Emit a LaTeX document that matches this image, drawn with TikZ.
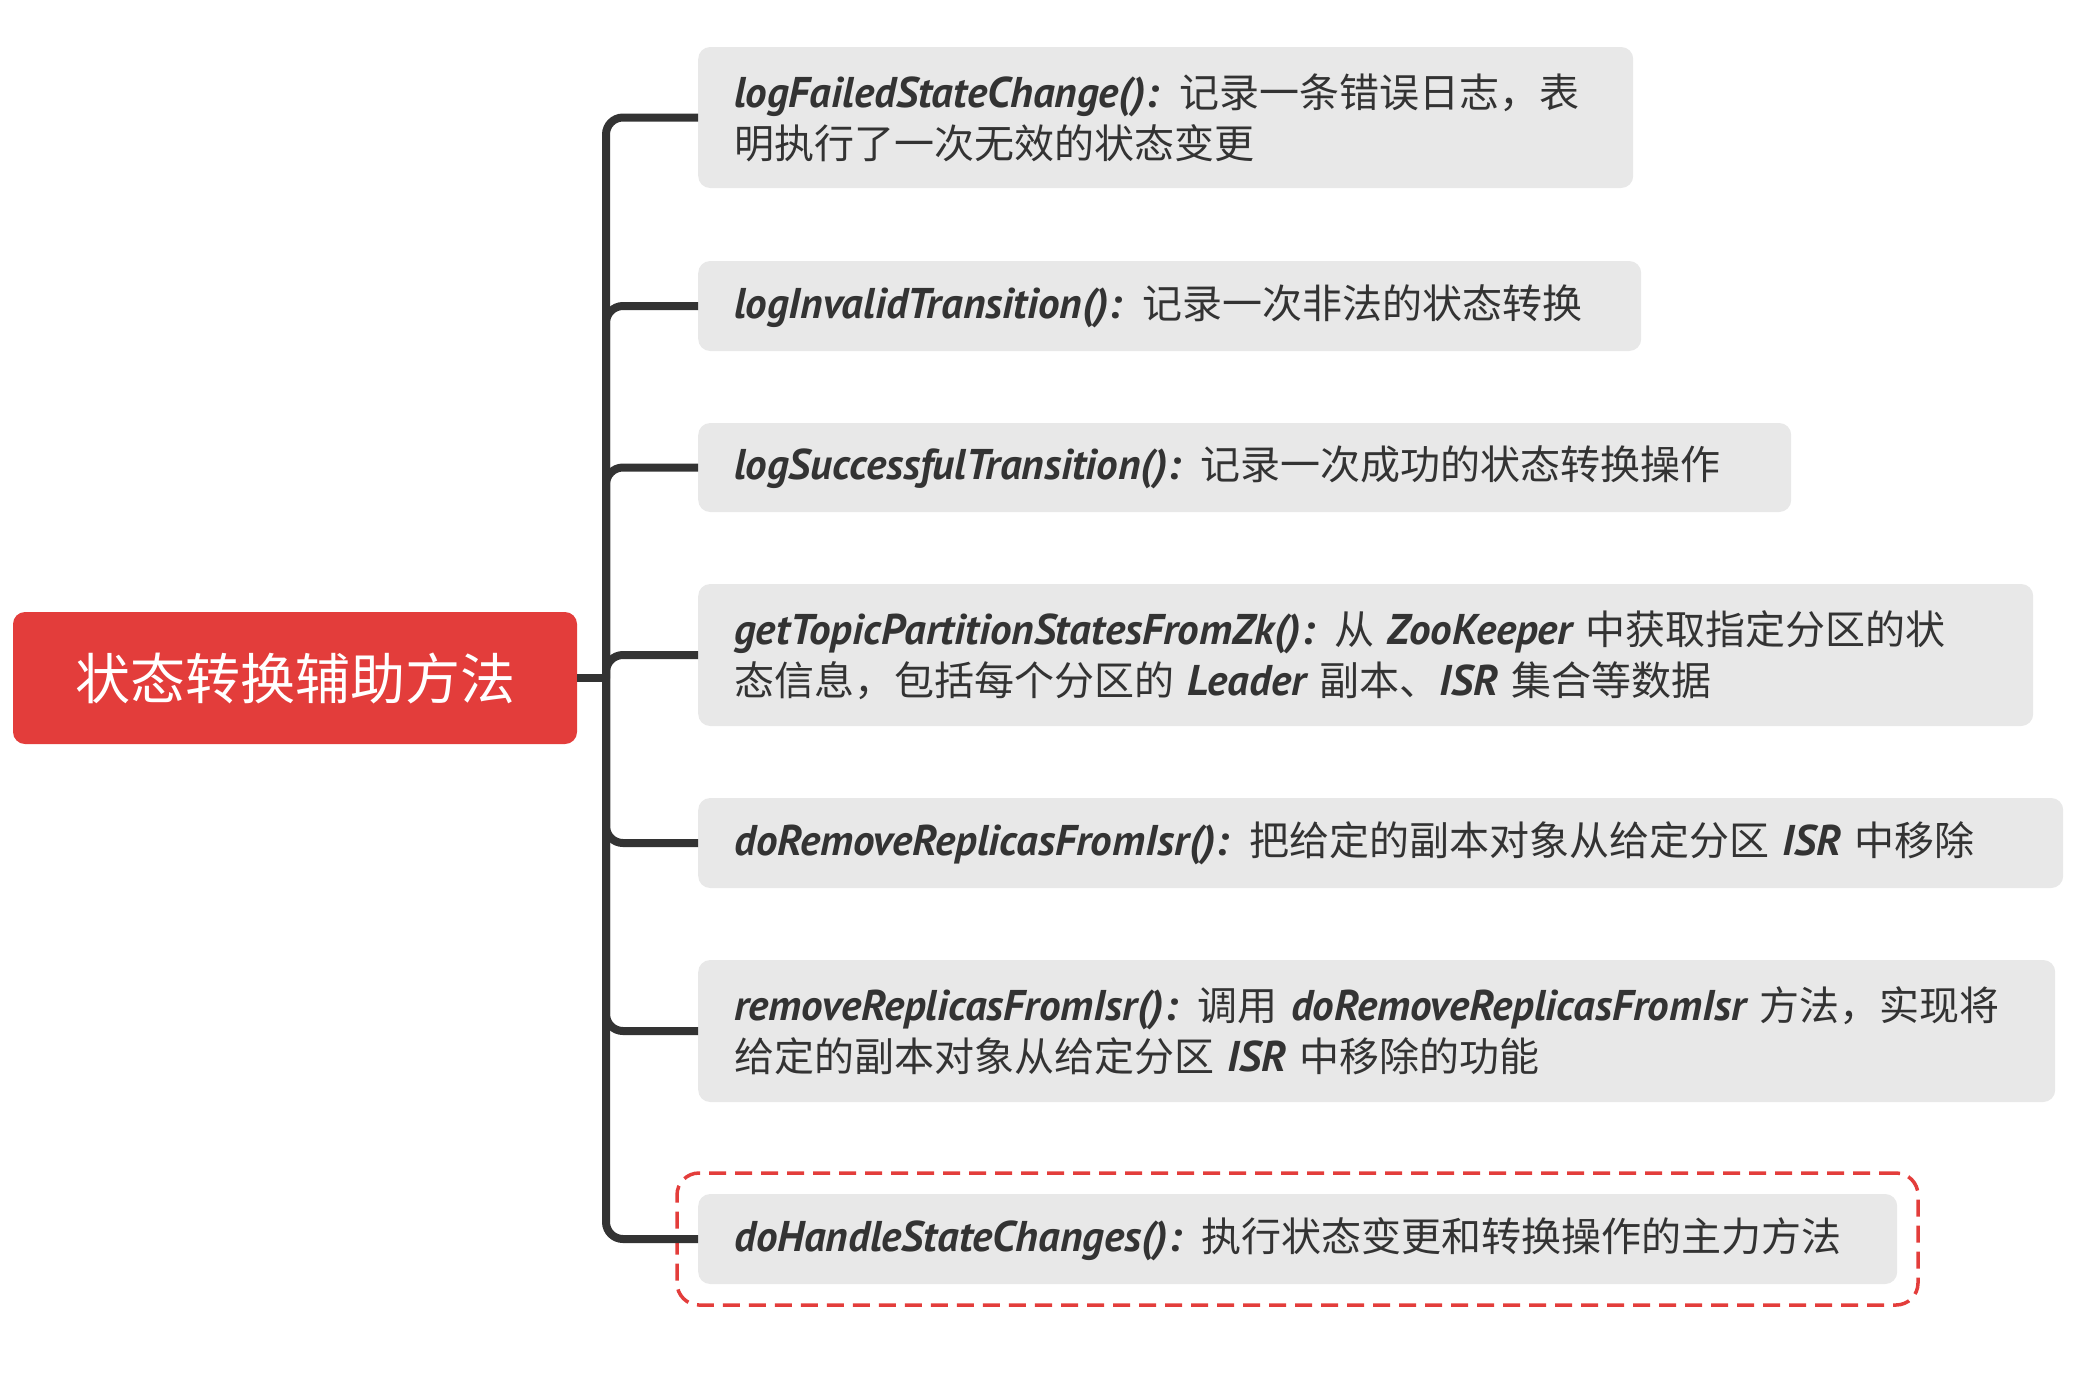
\documentclass[tikz,border=0pt]{standalone}
\usepackage{fontspec}
\setmainfont{Noto Sans CJK SC}
\newfontfamily\codefont{PT Sans}
\newcommand{\mcode}[1]{{\codefont\bfseries\itshape\fontsize{43}{51}\selectfont #1}}
\definecolor{rootred}{HTML}{E33D3B}
\definecolor{boxgray}{HTML}{E8E8E8}
\definecolor{ink}{HTML}{333333}
\tikzset{
  x=1pt, y=-1pt,
  rootbox/.style={draw=none, fill=rootred, rounded corners=12pt, text=white,
    font=\fontsize{55}{60}\selectfont, minimum width=564pt, minimum height=132pt, inner sep=0pt},
  leafbox/.style={draw=none, fill=boxgray, rounded corners=12pt, text=ink, anchor=west,
    font=\fontsize{40}{51}\selectfont, align=left, inner xsep=36pt, inner ysep=0pt},
  branch/.style={draw=ink, line width=8pt, rounded corners=17pt},
  selbox/.style={draw=rootred, line width=3.5pt, dash pattern=on 17pt off 9pt, rounded corners=22pt,
    inner sep=0pt}
}
\begin{document}
\begin{tikzpicture}
\useasboundingbox (0,0) rectangle (2090,1376);
\node[rootbox] (root) at (295,678) {状态转换辅助方法};
\coordinate (jn) at (606,678);

\node[leafbox, text width=863pt, minimum height=141pt] (b1) at (698,117.5)
  {\mcode{logFailedStateChange():} 记录一条错误日志，表\\明执行了一次无效的状态变更};
\node[leafbox, text width=871pt, minimum height=90pt] (b2) at (698,306)
  {\mcode{logInvalidTransition():} 记录一次非法的状态转换};
\node[leafbox, text width=1021pt, minimum height=89pt] (b3) at (698,467.5)
  {\mcode{logSuccessfulTransition():} 记录一次成功的状态转换操作};
\node[leafbox, text width=1263pt, minimum height=142pt] (b4) at (698,655)
  {\mcode{getTopicPartitionStatesFromZk():} 从 \mcode{ZooKeeper} 中获取指定分区的状\\态信息，包括每个分区的 \mcode{Leader} 副本、\mcode{ISR} 集合等数据};
\node[leafbox, text width=1293pt, minimum height=90pt] (b5) at (698,843)
  {\mcode{doRemoveReplicasFromIsr():} 把给定的副本对象从给定分区 \mcode{ISR} 中移除};
\node[leafbox, text width=1285pt, minimum height=142pt] (b6) at (698,1031)
  {\mcode{removeReplicasFromIsr():} 调用 \mcode{doRemoveReplicasFromIsr} 方法，实现将\\给定的副本对象从给定分区 \mcode{ISR} 中移除的功能};
\node[leafbox, text width=1127pt, minimum height=90pt] (b7) at (698,1239)
  {\mcode{doHandleStateChanges():} 执行状态变更和转换操作的主力方法};

\node[selbox, minimum width=1241pt, minimum height=132pt] (sel) at (1297.5,1239) {};

\draw[branch] (root.east) -- (jn);
\foreach \b in {b1,b2,b3,b4,b5,b6,b7}
  \draw[branch] (jn) |- (\b.west);
\end{tikzpicture}
\end{document}
